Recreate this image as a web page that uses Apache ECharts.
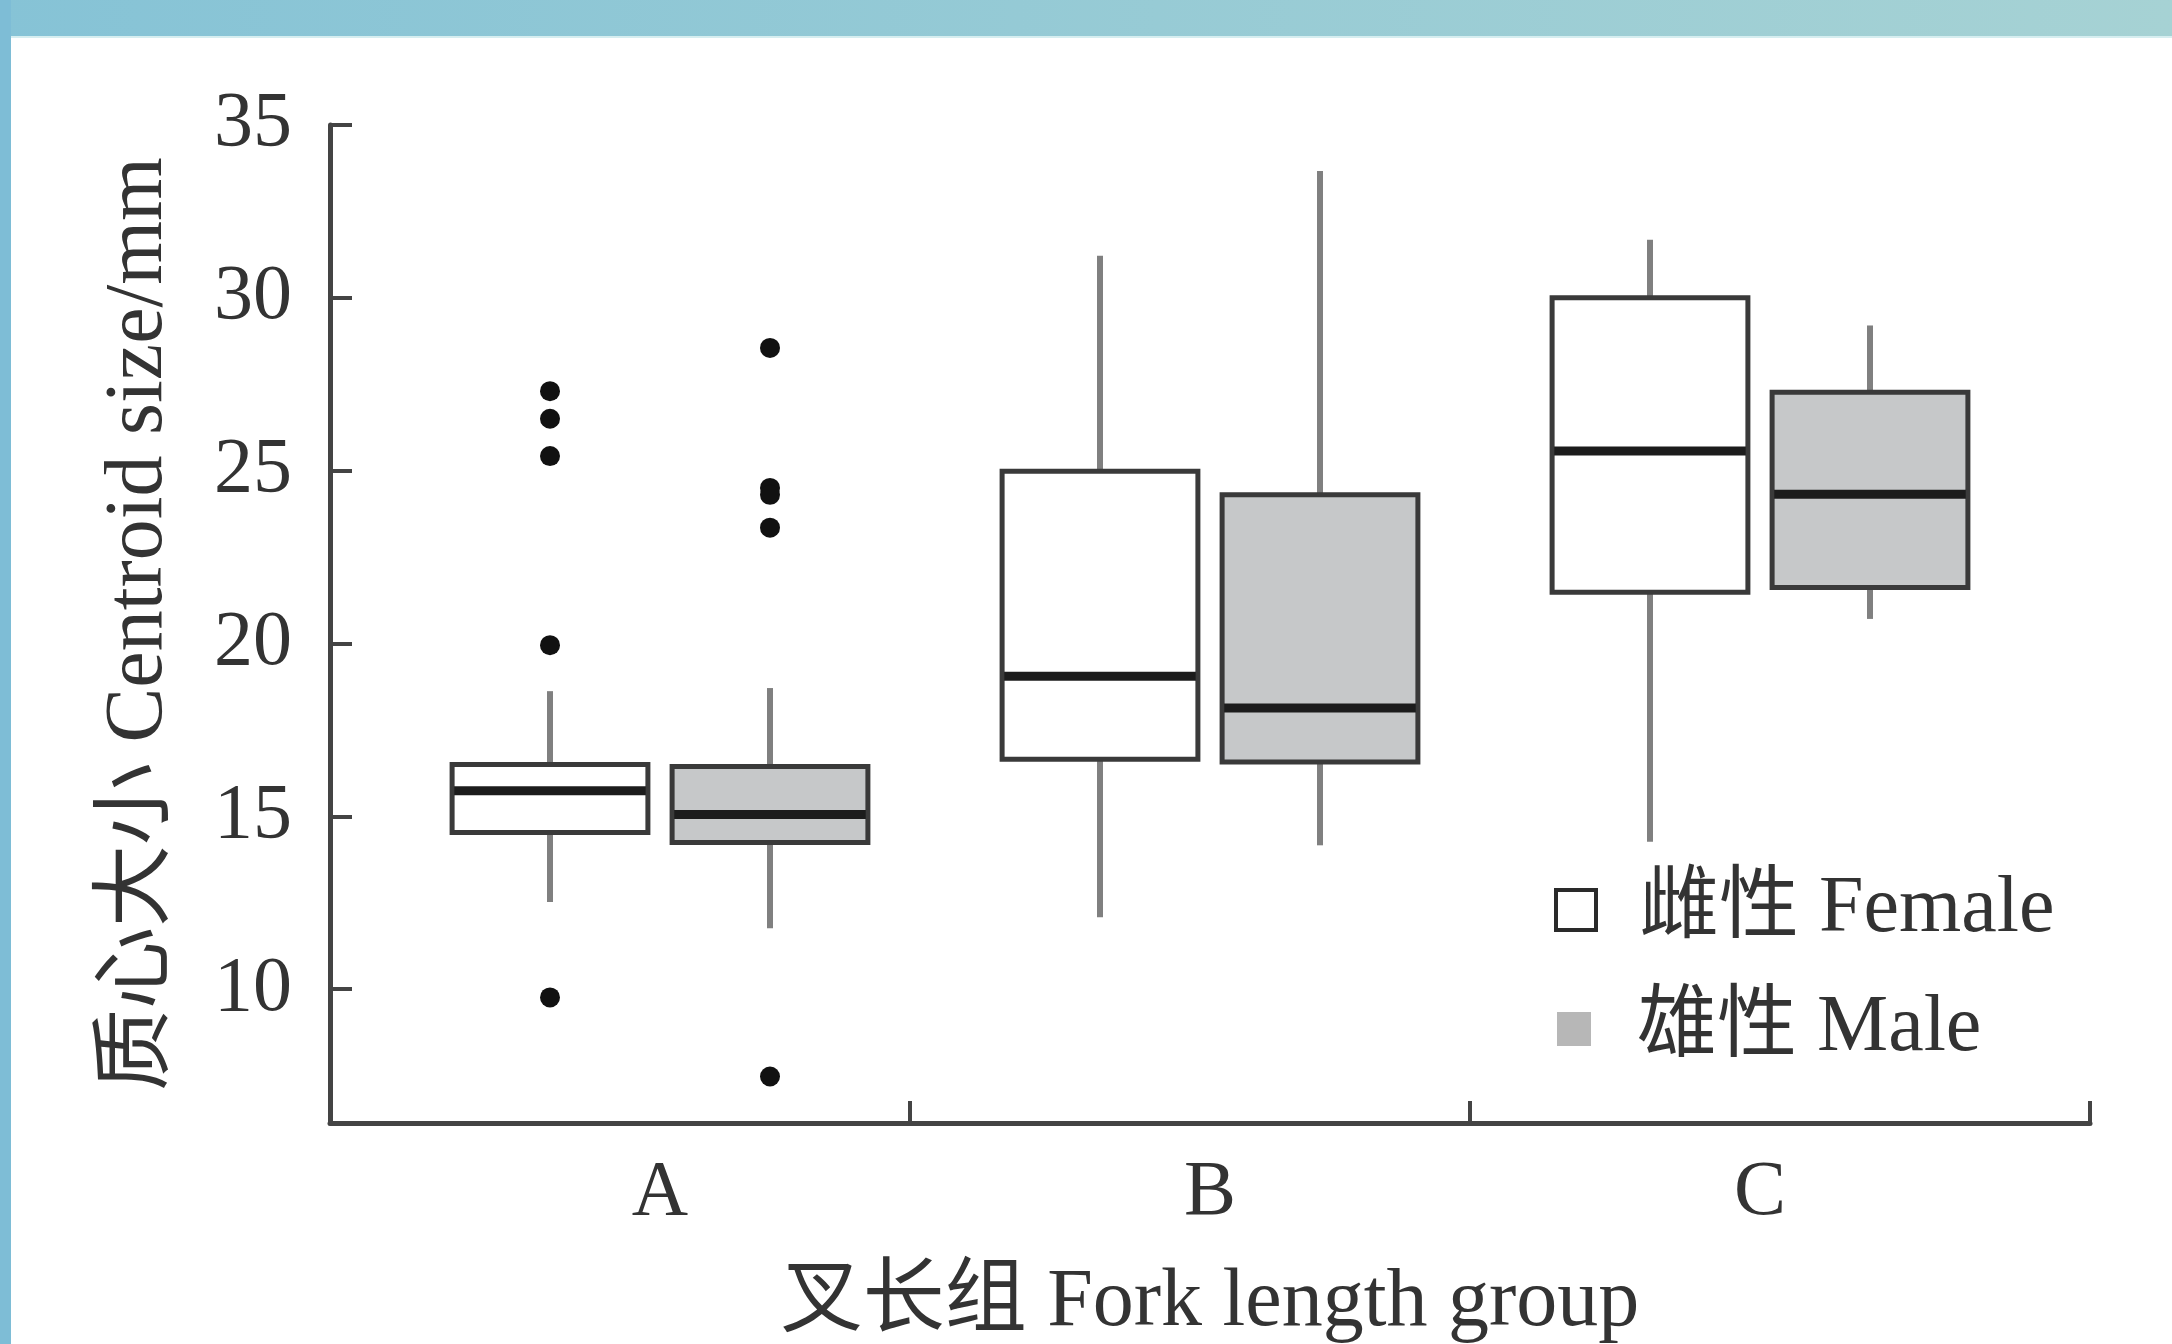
<!DOCTYPE html>
<html>
<head>
<meta charset="utf-8">
<script src="https://cdn.jsdelivr.net/npm/echarts@6/dist/echarts.min.js"></script>
<style>
html,body{margin:0;padding:0;background:#fff;}
#chart{width:2172px;height:1344px;}
</style>
</head>
<body>
<div id="chart"></div>
<script>
// ---- data ----
const categories = ['A', 'B', 'C'];
// [lower whisker, Q1, median, Q3, upper whisker]
const femaleStats = [
  [12.52, 14.53, 15.74, 16.50, 18.62],
  [12.08, 16.65, 19.05, 24.98, 31.22],
  [14.26, 21.48, 25.57, 30.00, 31.68]
];
const maleStats = [
  [11.76, 14.24, 15.05, 16.44, 18.71],
  [14.16, 16.57, 18.13, 24.30, 33.67],
  [20.71, 21.62, 24.32, 27.27, 29.20]
];
const femaleOutliers = [[27.30, 26.50, 25.42, 19.95, 9.76], [], []];
const maleOutliers = [[28.55, 24.50, 24.30, 23.35, 7.47], [], []];
const yTickValues = [10, 15, 20, 25, 30, 35];
const xTickBreaks = [-0.6, 0.455, 1.473, 2.6];
const seriesNames = ['雌性 Female', '雄性 Male'];

// ---- layout constants ----
const DODGE = 0.2;
const BOX_W = 0.356;
const FONT = '"Liberation Serif", "Times New Roman", "Noto Sans CJK SC", serif';
const TXT = '#333';

function boxData(stats, offset) {
  return stats.map((s, i) => [i + offset].concat(s));
}
function outlierData(list, offset) {
  const out = [];
  list.forEach((vals, i) => vals.forEach(v => out.push([i + offset, v])));
  return out;
}

function makeRender(fill) {
  return function (params, api) {
    const x = api.value(0);
    const pLow = api.coord([x, api.value(1)]);
    const pQ1 = api.coord([x, api.value(2)]);
    const pMed = api.coord([x, api.value(3)]);
    const pQ3 = api.coord([x, api.value(4)]);
    const pHigh = api.coord([x, api.value(5)]);
    const w = api.size([BOX_W, 0])[0];
    const cx = pLow[0];
    const whisker = { stroke: '#808080', lineWidth: 6 };
    return {
      type: 'group',
      children: [
        { type: 'line', shape: { x1: cx, y1: pHigh[1], x2: cx, y2: pQ3[1] }, style: whisker },
        { type: 'line', shape: { x1: cx, y1: pQ1[1], x2: cx, y2: pLow[1] }, style: whisker },
        { type: 'rect', shape: { x: cx - w / 2, y: pQ3[1], width: w, height: pQ1[1] - pQ3[1] },
          style: { fill: fill, stroke: '#3a3a3a', lineWidth: 5 } },
        { type: 'line', shape: { x1: cx - w / 2 + 2, y1: pMed[1], x2: cx + w / 2 - 2, y2: pMed[1] },
          style: { stroke: '#1c1c1c', lineWidth: 9 } }
      ]
    };
  };
}

const chart = echarts.init(document.getElementById('chart'), null, { renderer: 'canvas' });

const legendText = { fontFamily: FONT, fontSize: 80, color: TXT, lineHeight: 90 };

chart.setOption({
  backgroundColor: '#ffffff',
  animation: false,
  graphic: [
    { type: 'rect', left: 0, top: 0, shape: { width: 2172, height: 36 },
      style: { fill: new echarts.graphic.LinearGradient(0, 0, 1, 0, [
        { offset: 0, color: '#86c3d6' }, { offset: 1, color: '#a6d2d4' }]) }, z: 100 },
    { type: 'rect', left: 0, top: 36, shape: { width: 2172, height: 2 },
      style: { fill: '#d6eef0' }, z: 100 },
    { type: 'rect', left: 0, top: 0, shape: { width: 11, height: 1344 },
      style: { fill: '#7ebdd6' }, z: 101 }
  ],
  grid: { left: 330, right: 82, top: 125, bottom: 221, containLabel: false, outerBoundsMode: 'none' },
  legend: [
    {
      orient: 'vertical', left: 1549, top: 860,
      itemWidth: 40, itemHeight: 40, selectedMode: false,
      data: [{ name: seriesNames[0], icon: 'rect',
        itemStyle: { color: '#ffffff', borderColor: '#2a2a2a', borderWidth: 4 } }],
      textStyle: Object.assign({ padding: [0, 0, 0, 38] }, legendText)
    },
    {
      orient: 'vertical', left: 1552, top: 979,
      itemWidth: 34, itemHeight: 34, selectedMode: false,
      data: [{ name: seriesNames[1], icon: 'rect',
        itemStyle: { color: '#b7b7b7', borderWidth: 0 } }],
      textStyle: Object.assign({ padding: [0, 0, 0, 41] }, legendText)
    }
  ],
  xAxis: {
    type: 'value', min: -0.6, max: 2.6,
    name: '叉长组 Fork length group', nameLocation: 'middle', nameGap: 139,
    nameTextStyle: { fontFamily: FONT, fontSize: 82, color: TXT },
    axisLine: { show: true, onZero: false, lineStyle: { color: '#444', width: 5 } },
    axisTick: { show: true, inside: true, length: 22, customValues: xTickBreaks,
      lineStyle: { color: '#444', width: 4 } },
    axisLabel: { customValues: [0, 1, 2], margin: 32,
      formatter: v => categories[Math.round(v)],
      fontFamily: FONT, fontSize: 78, color: TXT },
    splitLine: { show: false }
  },
  yAxis: {
    type: 'value', min: 6.126, max: 35,
    name: '质心大小 Centroid size/mm', nameLocation: 'middle', nameGap: 150,
    nameTextStyle: { fontFamily: FONT, fontSize: 82, color: TXT },
    axisLine: { show: true, onZero: false, lineStyle: { color: '#444', width: 5 } },
    axisTick: { show: true, inside: true, length: 22, customValues: yTickValues,
      lineStyle: { color: '#444', width: 4 } },
    axisLabel: { customValues: yTickValues, margin: 38,
      fontFamily: FONT, fontSize: 78, color: TXT },
    splitLine: { show: false }
  },
  series: [
    {
      name: seriesNames[0], type: 'custom',
      renderItem: makeRender('#ffffff'),
      itemStyle: { color: '#ffffff', borderColor: '#2a2a2a' },
      encode: { x: 0, y: [1, 2, 3, 4, 5] },
      data: boxData(femaleStats, -DODGE), z: 3
    },
    {
      name: seriesNames[1], type: 'custom',
      renderItem: makeRender('#c6c8c9'),
      itemStyle: { color: '#b7b7b7' },
      encode: { x: 0, y: [1, 2, 3, 4, 5] },
      data: boxData(maleStats, DODGE), z: 3
    },
    {
      name: 'female outliers', type: 'scatter', symbol: 'circle', symbolSize: 20,
      itemStyle: { color: '#111', opacity: 1 }, data: outlierData(femaleOutliers, -DODGE), z: 4
    },
    {
      name: 'male outliers', type: 'scatter', symbol: 'circle', symbolSize: 20,
      itemStyle: { color: '#111', opacity: 1 }, data: outlierData(maleOutliers, DODGE), z: 4
    }
  ]
});
</script>
</body>
</html>
